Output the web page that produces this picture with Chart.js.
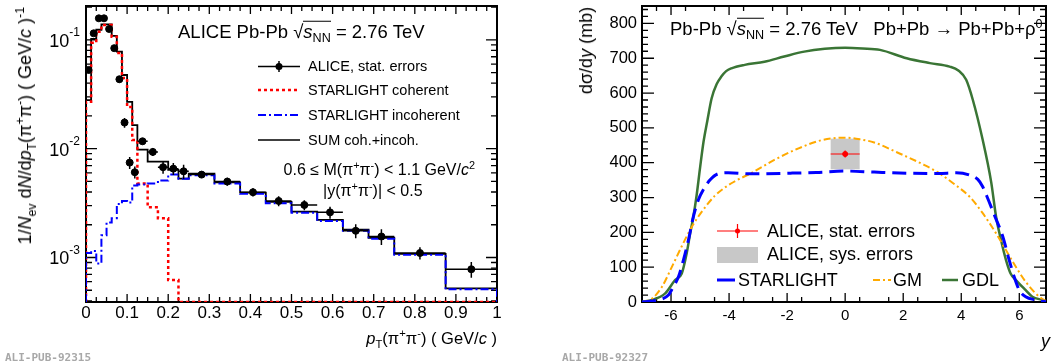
<!DOCTYPE html>
<html>
<head>
<meta charset="utf-8">
<title>ALICE rho0 photoproduction in Pb-Pb</title>
<script src="https://cdn.jsdelivr.net/npm/chart.js@4.4.1/dist/chart.umd.min.js"></script>
<style>
  html, body { margin: 0; padding: 0; background: #fff; }
  body { position: relative; width: 1051px; height: 364px; overflow: hidden;
         font-family: "Liberation Sans", Arial, Helvetica, sans-serif; color: #000; }
  canvas { position: absolute; top: 0; }
  #ptChart  { left: 0; }
  #rapChart { left: 546px; }
  .t   { position: absolute; white-space: nowrap; line-height: 1; transform: translateY(-50%); }
  .r   { transform: translate(-100%, -50%); }
  .rot { position: absolute; white-space: nowrap; line-height: 1; transform-origin: 0 0;
         transform: rotate(-90deg) translate(-100%, -50%); }
  sub, sup { font-size: 68%; line-height: 0; }
  .rt  { display: inline-block; border-top: 1.2px solid #000; line-height: 1; padding-top: 1px; }
  .wm  { position: absolute; transform: translateY(-50%); font-family: "DejaVu Sans Mono", "Liberation Mono", monospace;
         font-weight: bold; font-size: 11px; color: #a8a8a8; }
</style>
</head>
<body>
<canvas id="ptChart" width="540" height="364"></canvas>
<canvas id="rapChart" width="505" height="364"></canvas>

<!-- left panel texts -->
<div class="t" style="left:178px; top:31px; font-size:18.5px;">ALICE Pb-Pb √<span class="rt"><i>s</i><sub>NN</sub></span> = 2.76 TeV</div>
<div class="t" style="left:308px; top:66px; font-size:14.5px;">ALICE, stat. errors</div>
<div class="t" style="left:308px; top:90px; font-size:14.5px;">STARLIGHT coherent</div>
<div class="t" style="left:308px; top:115px; font-size:14.5px;">STARLIGHT incoherent</div>
<div class="t" style="left:308px; top:140px; font-size:14.5px;">SUM coh.+incoh.</div>
<div class="t r" style="left:475px; top:170px; font-size:16px;">0.6 ≤ M(π<sup>+</sup>π<sup>-</sup>) &lt; 1.1 GeV/<i>c</i><sup>2</sup></div>
<div class="t" style="left:323px; top:191px; font-size:16px;">|y(π<sup>+</sup>π<sup>-</sup>)| &lt; 0.5</div>
<div class="t r" style="left:497px; top:338px; font-size:16.5px;"><i>p</i><sub>T</sub>(π<sup>+</sup>π<sup>-</sup>) ( GeV/<i>c</i> )</div>
<div class="rot" style="left:25px; top:7px; font-size:18px;">1/<i>N</i><sub>ev</sub> d<i>N</i>/d<i>p</i><sub>T</sub>(π<sup>+</sup>π<sup>-</sup>) ( GeV/<i>c</i> )<sup>-1</sup></div>
<div class="wm" style="left:5px; top:357px;">ALI-PUB-92315</div>

<!-- right panel texts -->
<div class="t" style="left:670px; top:28px; font-size:18.5px;">Pb-Pb √<span class="rt"><i>s</i><sub>NN</sub></span> = 2.76 TeV&nbsp;&nbsp; Pb+Pb → Pb+Pb+ρ<sup>0</sup></div>
<div class="rot" style="left:586px; top:7px; font-size:18px;">dσ/d<i>y</i> (mb)</div>
<div class="t r" style="left:1050px; top:341px; font-size:18px;"><i>y</i></div>
<div class="t" style="left:767px; top:231px; font-size:18px;">ALICE, stat. errors</div>
<div class="t" style="left:767px; top:254px; font-size:18px;">ALICE, sys. errors</div>
<div class="t" style="left:738px; top:280px; font-size:18px;">STARLIGHT</div>
<div class="t" style="left:893px; top:280px; font-size:18px;">GM</div>
<div class="t" style="left:962px; top:280px; font-size:18px;">GDL</div>
<div class="wm" style="left:562px; top:357px;">ALI-PUB-92327</div>

<script>
const FONT = '"Liberation Sans", Arial, sans-serif';
Chart.defaults.font.family = FONT;

// ── Left panel: 1/Nev dN/dpT ─────────────────────────────────────────────
const ptBinEdges = [0, 0.0125, 0.025, 0.0375, 0.05, 0.0625, 0.075, 0.0875, 0.1, 0.1125, 0.125,
                    0.15, 0.175, 0.2, 0.225, 0.25, 0.3125, 0.375, 0.4375, 0.5, 0.5625, 0.625,
                    0.6875, 0.75, 0.875, 1.0];
const aliceVals = [0.053, 0.115, 0.158, 0.158, 0.126, 0.084, 0.0435, 0.0174, 0.00745, 0.00608,
                   0.0117, 0.00935, 0.00676, 0.00656, 0.0062, 0.00578, 0.00499, 0.00398, 0.00331,
                   0.00304, 0.0026, 0.00176, 0.00156, 0.0011, 0.00078];
const aliceStat = [0.0022, 0.0049, 0.0067, 0.0067, 0.0053, 0.0036, 0.0028, 0.0018, 0.00095, 0.00077,
                   0.00074, 0.00079, 0.00086, 0.00083, 0.00092, 0.00037, 0.00042, 0.00034, 0.00035,
                   0.00032, 0.00033, 0.00026, 0.00026, 0.00014, 0.00013];
const sumVals   = [0.028, 0.102, 0.124, 0.139, 0.139, 0.109, 0.078, 0.0476, 0.027, 0.0165,
                   0.0098, 0.0076, 0.0076, 0.0064, 0.0053, 0.0059, 0.0049, 0.00395, 0.00324,
                   0.00264, 0.00222, 0.0018, 0.00152, 0.00108, 0.00052];
const cohVals   = [0.027, 0.094, 0.119, 0.137, 0.137, 0.107, 0.076, 0.0446, 0.0242, 0.012,
                   0.0048, 0.0029, 0.0023, 0.00062, 0, 0, 0, 0, 0, 0, 0, 0, 0, 0, 0];
const incohVals = [0.0011, 0.00115, 0.00088, 0.0016, 0.0021, 0.0023, 0.0031, 0.0033, 0.0032, 0.0046,
                   0.0047, 0.0048, 0.0051, 0.0058, 0.0053, 0.0057, 0.0048, 0.00385, 0.00316,
                   0.00258, 0.00217, 0.00176, 0.00149, 0.00106, 0.00051];
const ptTicks      = [0, 0.1, 0.2, 0.3, 0.4, 0.5, 0.6, 0.7, 0.8, 0.9, 1];
const ptTickLabels = ['0', '0.1', '0.2', '0.3', '0.4', '0.5', '0.6', '0.7', '0.8', '0.9', '1'];
const dndptDecades    = [1e-3, 1e-2, 1e-1];
const dndptDecadeExps = ['-3', '-2', '-1'];

// ── Right panel: dσ/dy ───────────────────────────────────────────────────
const gdlRap  = [-7, -6.65, -6.2, -5.86, -5.63, -5.46, -5.34, -5.23, -5.12, -5.0, -4.88, -4.75, -4.6, -4.43,
                 -4.26, -4.1, -3.92, -3.46, -2.78, -2.1, -1.41, -0.7, 0, 0.6, 1.2, 2.12, 2.92, 3.6, 3.9,
                 4.17, 4.4, 4.74, 5.03, 5.2, 5.37, 5.54, 5.7, 5.94, 6.22, 6.45, 6.8, 7];
const gdlVals = [1, 6, 25, 63, 82, 140, 197, 245, 305, 385, 460, 520, 585, 625,
                 648, 663, 671, 681, 690, 705, 719, 727, 730, 728, 724, 700, 686, 676, 665,
                 638, 580, 465, 345, 245, 178, 121, 82, 58, 34, 15, 6, 1];
const slRap   = [-7, -6.43, -6.09, -5.92, -5.74, -5.57, -5.4, -5.23, -5.06, -4.89, -4.66, -4.38, -4.03,
                 -3.24, -1.88, -1, 0, 1, 2.12, 3.2, 3.83, 4.27, 4.57, 4.74, 4.91, 5.14, 5.43, 5.65,
                 5.82, 6.0, 6.22, 6.56, 6.9, 7];
const slVals  = [0, 6, 20, 44, 73, 121, 178, 245, 293, 322, 350, 368, 371,
                 368, 370, 372, 376, 373, 370, 369, 371, 365, 352, 331, 298, 250, 188, 121,
                 73, 34, 15, 6, 1, 0];
const gmRap   = [-7, -6.65, -6.31, -5.97, -5.63, -5.29, -4.95, -4.49, -3.92, -3.24, -2.44, -1.64, -0.8,
                 0, 0.52, 1.0, 1.78, 2.69, 3.2, 3.72, 4.28, 4.74, 5.2, 5.54, 5.88, 6.22, 6.56, 6.84, 7];
const gmVals  = [0, 10, 44, 101, 160, 215, 258, 305, 341, 370, 408, 440, 465,
                 472, 467, 458, 430, 395, 372, 341, 303, 255, 197, 149, 101, 58, 25, 6, 0];
const aliceRap       = [0];
const aliceRapHalf   = [0.5];
const aliceSigma     = [425];
const aliceSigmaStat = [10];
const aliceSigmaSys  = [44];
const rapTicks       = [-6, -4, -2, 0, 2, 4, 6];
const rapTickLabels  = ['-6', '-4', '-2', '0', '2', '4', '6'];
const sigmaTicks     = [0, 100, 200, 300, 400, 500, 600, 700, 800];
const sigmaTickLabels = ['0', '100', '200', '300', '400', '500', '600', '700', '800'];

// ── Helpers ──────────────────────────────────────────────────────────────
const PT_YMIN = 0.00039, PT_YMAX = 0.205;

// histogram outline; empty bins sit on the frame floor like ROOT draws them
const stepData = (vals) => {
    const last = ptBinEdges.length - 1;
    const floor = v => Math.max(v, PT_YMIN);
    const pts = [{ x: ptBinEdges[0], y: PT_YMIN }];
    vals.forEach((v, i) => pts.push({ x: ptBinEdges[i], y: floor(v) }));
    pts.push({ x: ptBinEdges[last], y: floor(vals[vals.length - 1]) });
    pts.push({ x: ptBinEdges[last], y: PT_YMIN });
    return pts;
};
const ptCenters = ptBinEdges.slice(0, -1).map((e, i) => (e + ptBinEdges[i + 1]) / 2);

function minorTicks(from, to, step, majorStep) {
    const out = [];
    const n = Math.round((to - from) / step);
    const per = Math.round(majorStep / step);
    for (let i = 0; i <= n; i++) if (i % per) out.push(from + i * step);
    return out;
}

// ROOT-style frame: ticks inside on all four sides
function drawFrame(chart, f) {
    const { ctx, chartArea: a, scales: { x, y } } = chart;
    ctx.save();
    ctx.strokeStyle = '#000';
    ctx.lineWidth = 1.3;
    ctx.beginPath();
    const vTick = (v, len) => {
        const px = x.getPixelForValue(v);
        ctx.moveTo(px, a.bottom); ctx.lineTo(px, a.bottom - len);
        ctx.moveTo(px, a.top);    ctx.lineTo(px, a.top + len);
    };
    const hTick = (v, len) => {
        const py = y.getPixelForValue(v);
        ctx.moveTo(a.left, py);  ctx.lineTo(a.left + len, py);
        ctx.moveTo(a.right, py); ctx.lineTo(a.right - len, py);
    };
    f.xMajor.forEach(v => vTick(v, f.xMajorLen));
    f.xMinor.forEach(v => vTick(v, f.xMinorLen));
    f.yMajor.forEach(v => hTick(v, f.yMajorLen));
    f.yMinor.forEach(v => hTick(v, f.yMinorLen));
    ctx.stroke();
    ctx.lineWidth = 2;
    ctx.strokeRect(a.left, a.top, a.right - a.left, a.bottom - a.top);
    ctx.restore();
}

function legendLine(ctx, x0, x1, y, color, width, dash) {
    ctx.save();
    ctx.strokeStyle = color;
    ctx.lineWidth = width;
    ctx.setLineDash(dash);
    ctx.beginPath(); ctx.moveTo(x0, y); ctx.lineTo(x1, y); ctx.stroke();
    ctx.restore();
}

// ── Left chart ───────────────────────────────────────────────────────────
const logMinor = [];
[-4, -3, -2, -1].forEach(d => {
    for (let m = 2; m <= 9; m++) {
        const v = m * Math.pow(10, d);
        if (v >= PT_YMIN && v <= PT_YMAX) logMinor.push(v);
    }
});

const ptFrame = {
    id: 'ptFrame',
    beforeDatasetsDraw(chart) {
        drawFrame(chart, {
            xMajor: ptTicks, xMinor: minorTicks(0, 1, 0.025, 0.1), xMajorLen: 8, xMinorLen: 5,
            yMajor: dndptDecades, yMinor: logMinor, yMajorLen: 11, yMinorLen: 6
        });
    },
    afterDatasetsDraw(chart) {
        const { ctx, scales: { x, y } } = chart;
        ctx.save();
        ctx.strokeStyle = '#000';
        ctx.lineWidth = 1.5;
        ctx.beginPath();
        aliceVals.forEach((v, i) => {
            const py = y.getPixelForValue(v);
            ctx.moveTo(x.getPixelForValue(ptBinEdges[i]), py);
            ctx.lineTo(x.getPixelForValue(ptBinEdges[i + 1]), py);
            const px = x.getPixelForValue(ptCenters[i]);
            ctx.moveTo(px, y.getPixelForValue(v + aliceStat[i]));
            ctx.lineTo(px, y.getPixelForValue(v - aliceStat[i]));
        });
        ctx.stroke();
        // legend samples
        legendLine(ctx, 258, 300, 66.5, '#000', 1.5, []);
        ctx.beginPath(); ctx.moveTo(279, 61); ctx.lineTo(279, 72); ctx.stroke();
        ctx.fillStyle = '#000';
        ctx.beginPath(); ctx.arc(279, 66.5, 3.5, 0, Math.PI * 2); ctx.fill();
        legendLine(ctx, 258, 300, 90, '#ff0000', 2.5, [3, 3]);
        legendLine(ctx, 258, 300, 115, '#0000ff', 2, [8, 3, 2, 3]);
        legendLine(ctx, 258, 300, 140, '#000', 1.5, []);
        ctx.restore();
    },
    afterDraw(chart) {
        const { ctx, scales: { x, y } } = chart;
        ctx.save();
        ctx.fillStyle = '#000';
        ctx.textBaseline = 'middle';
        ctx.textAlign = 'center';
        ctx.font = '17px ' + FONT;
        ptTicks.forEach((v, i) => ctx.fillText(ptTickLabels[i], x.getPixelForValue(v), 313));
        ctx.textAlign = 'right';
        dndptDecades.forEach((v, i) => {
            const py = y.getPixelForValue(v);
            ctx.font = '12px ' + FONT;
            const w = ctx.measureText(dndptDecadeExps[i]).width;
            ctx.fillText(dndptDecadeExps[i], 80, py - 7);
            ctx.font = '18px ' + FONT;
            ctx.fillText('10', 80 - w, py + 2);
        });
        ctx.restore();
    }
};

new Chart(document.getElementById('ptChart'), {
    type: 'line',
    data: {
        datasets: [
            {
                type: 'scatter',
                label: 'ALICE, stat. errors',
                data: ptCenters.map((c, i) => ({ x: c, y: aliceVals[i] })),
                pointRadius: 3.5,
                pointBackgroundColor: '#000',
                pointBorderColor: '#000',
                showLine: false
            },
            {
                label: 'STARLIGHT incoherent',
                data: stepData(incohVals),
                borderColor: '#0000ff',
                borderWidth: 2,
                borderDash: [8, 3, 2, 3],
                stepped: true,
                pointRadius: 0,
                fill: false
            },
            {
                label: 'STARLIGHT coherent',
                data: stepData(cohVals),
                borderColor: '#ff0000',
                borderWidth: 2.5,
                borderDash: [3, 3],
                stepped: true,
                pointRadius: 0,
                fill: false
            },
            {
                label: 'SUM coh.+incoh.',
                data: stepData(sumVals),
                borderColor: '#000',
                borderWidth: 1.8,
                stepped: true,
                pointRadius: 0,
                fill: false
            }
        ]
    },
    options: {
        responsive: false,
        devicePixelRatio: 1,
        animation: false,
        events: [],
        layout: { padding: { left: 86, right: 43, top: 6, bottom: 62 } },
        plugins: { legend: { display: false }, tooltip: { enabled: false } },
        scales: {
            x: { type: 'linear', min: 0, max: 1, display: false },
            y: { type: 'logarithmic', min: PT_YMIN, max: PT_YMAX, display: false }
        }
    },
    plugins: [ptFrame]
});

// ── Right chart ──────────────────────────────────────────────────────────
const RAP_OFF = 546;   // canvas left offset on the page

const rapFrame = {
    id: 'rapFrame',
    beforeDatasetsDraw(chart) {
        const { ctx, scales: { x, y } } = chart;
        drawFrame(chart, {
            xMajor: rapTicks, xMinor: minorTicks(-7, 7, 0.5, 2).filter(v => v < 6.92), xMajorLen: 9, xMinorLen: 5,
            yMajor: sigmaTicks, yMinor: minorTicks(0, 840, 20, 100), yMajorLen: 12, yMinorLen: 6
        });
        // ALICE systematic box
        ctx.save();
        ctx.fillStyle = '#c8c8c8';
        aliceRap.forEach((r, i) => {
            const x0 = x.getPixelForValue(r - aliceRapHalf[i]);
            const x1 = x.getPixelForValue(r + aliceRapHalf[i]);
            const y0 = y.getPixelForValue(aliceSigma[i] + aliceSigmaSys[i]);
            const y1 = y.getPixelForValue(aliceSigma[i] - aliceSigmaSys[i]);
            ctx.fillRect(x0, y0, x1 - x0, y1 - y0);
        });
        ctx.restore();
    },
    afterDatasetsDraw(chart) {
        const { ctx, scales: { x, y } } = chart;
        ctx.save();
        ctx.strokeStyle = '#ff0000';
        ctx.lineWidth = 1.2;
        ctx.beginPath();
        aliceRap.forEach((r, i) => {
            const py = y.getPixelForValue(aliceSigma[i]);
            ctx.moveTo(x.getPixelForValue(r - aliceRapHalf[i]), py);
            ctx.lineTo(x.getPixelForValue(r + aliceRapHalf[i]), py);
            const px = x.getPixelForValue(r);
            ctx.moveTo(px, y.getPixelForValue(aliceSigma[i] + aliceSigmaStat[i]));
            ctx.lineTo(px, y.getPixelForValue(aliceSigma[i] - aliceSigmaStat[i]));
        });
        ctx.stroke();
        // legend samples
        const o = RAP_OFF;
        legendLine(ctx, 717 - o, 758 - o, 231, '#ff0000', 1.2, []);
        ctx.beginPath(); ctx.moveTo(737.5 - o, 224); ctx.lineTo(737.5 - o, 238); ctx.stroke();
        ctx.fillStyle = '#ff0000';
        ctx.beginPath(); ctx.arc(737.5 - o, 231, 2.5, 0, Math.PI * 2); ctx.fill();
        ctx.fillStyle = '#c8c8c8';
        ctx.fillRect(717 - o, 247, 41, 16);
        legendLine(ctx, 717 - o, 735 - o, 280, '#0000ff', 3, []);
        legendLine(ctx, 873 - o, 891 - o, 280, '#ffaa00', 2, [7, 3, 2, 3]);
        legendLine(ctx, 942 - o, 958 - o, 280, '#3a7535', 2.5, []);
        ctx.restore();
    },
    afterDraw(chart) {
        const { ctx, scales: { x, y } } = chart;
        ctx.save();
        ctx.fillStyle = '#000';
        ctx.textBaseline = 'middle';
        ctx.textAlign = 'center';
        ctx.font = '15px ' + FONT;
        rapTicks.forEach((v, i) => ctx.fillText(rapTickLabels[i], x.getPixelForValue(v), 316));
        ctx.textAlign = 'right';
        ctx.font = '16.5px ' + FONT;
        sigmaTicks.forEach((v, i) => ctx.fillText(sigmaTickLabels[i], 637 - RAP_OFF, y.getPixelForValue(v)));
        ctx.restore();
    }
};

new Chart(document.getElementById('rapChart'), {
    type: 'line',
    data: {
        datasets: [
            {
                type: 'scatter',
                label: 'ALICE, stat. errors',
                data: aliceRap.map((r, i) => ({ x: r, y: aliceSigma[i] })),
                pointRadius: 2.5,
                pointBackgroundColor: '#ff0000',
                pointBorderColor: '#ff0000',
                showLine: false
            },
            {
                label: 'STARLIGHT',
                data: slRap.map((r, i) => ({ x: r, y: slVals[i] })),
                borderColor: '#0000ff',
                borderWidth: 3,
                borderDash: [14, 7],
                cubicInterpolationMode: 'monotone',
                pointRadius: 0,
                fill: false
            },
            {
                label: 'GM',
                data: gmRap.map((r, i) => ({ x: r, y: gmVals[i] })),
                borderColor: '#ffaa00',
                borderWidth: 2,
                borderDash: [7, 3, 2, 3],
                cubicInterpolationMode: 'monotone',
                pointRadius: 0,
                fill: false
            },
            {
                label: 'GDL',
                data: gdlRap.map((r, i) => ({ x: r, y: gdlVals[i] })),
                borderColor: '#3a7535',
                borderWidth: 2.5,
                cubicInterpolationMode: 'monotone',
                pointRadius: 0,
                fill: false
            }
        ]
    },
    options: {
        responsive: false,
        devicePixelRatio: 1,
        animation: false,
        events: [],
        layout: { padding: { left: 96, right: 2, top: 6, bottom: 62 } },
        plugins: { legend: { display: false }, tooltip: { enabled: false } },
        scales: {
            x: { type: 'linear', min: -7, max: 6.92, display: false },
            y: { type: 'linear', min: 0, max: 850, display: false }
        }
    },
    plugins: [rapFrame]
});
</script>
</body>
</html>
